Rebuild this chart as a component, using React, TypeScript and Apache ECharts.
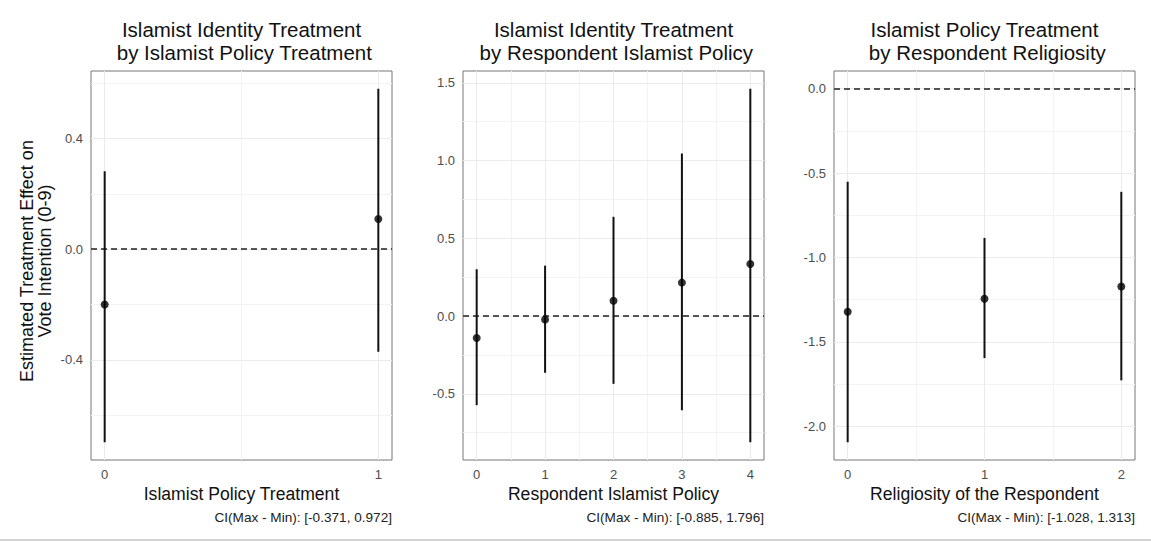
import React, { useEffect, useRef } from "react";
import * as echarts from "echarts";

const FONT = '"Liberation Sans", Arial, Helvetica, sans-serif';

// ---- texts ----
const panelTitles = [
  "Islamist Identity Treatment\n by Islamist Policy Treatment",
  "Islamist Identity Treatment\n by Respondent Islamist Policy",
  "Islamist Policy Treatment\n by Respondent Religiosity",
];
const xTitles = ["Islamist Policy Treatment", "Respondent Islamist Policy", "Religiosity of the Respondent"];
const captions = [
  "CI(Max - Min): [-0.371, 0.972]",
  "CI(Max - Min): [-0.885, 1.796]",
  "CI(Max - Min): [-1.028, 1.313]",
];
const yTitle = "Estimated Treatment Effect on\nVote Intention (0-9)";

// ---- panel 1 ----
const p1X = [0, 1];
const p1Est = [-0.2, 0.109];
const p1Lo = [-0.698, -0.371];
const p1Hi = [0.282, 0.58];
const p1YTicks = [-0.4, 0, 0.4];
const p1YMinor = [-0.6, -0.2, 0.2, 0.6];
const p1XTicks = [0, 1];
const p1XMinor = [0.5];

// ---- panel 2 ----
const p2X = [0, 1, 2, 3, 4];
const p2Est = [-0.141, -0.022, 0.098, 0.215, 0.335];
const p2Lo = [-0.573, -0.365, -0.436, -0.605, -0.812];
const p2Hi = [0.301, 0.324, 0.638, 1.045, 1.462];
const p2YTicks = [-0.5, 0, 0.5, 1, 1.5];
const p2YMinor = [-0.75, -0.25, 0.25, 0.75, 1.25];
const p2XTicks = [0, 1, 2, 3, 4];
const p2XMinor = [0.5, 1.5, 2.5, 3.5];

// ---- panel 3 ----
const p3X = [0, 1, 2];
const p3Est = [-1.322, -1.245, -1.172];
const p3Lo = [-2.095, -1.596, -1.728];
const p3Hi = [-0.552, -0.884, -0.611];
const p3YTicks = [-2, -1.5, -1, -0.5, 0];
const p3YMinor = [-1.75, -1.25, -0.75, -0.25];
const p3XTicks = [0, 1, 2];
const p3XMinor = [0.5, 1.5];

const panels = [
  { x: p1X, est: p1Est, lo: p1Lo, hi: p1Hi, yT: p1YTicks, yM: p1YMinor, xT: p1XTicks, xM: p1XMinor },
  { x: p2X, est: p2Est, lo: p2Lo, hi: p2Hi, yT: p2YTicks, yM: p2YMinor, xT: p2XTicks, xM: p2XMinor },
  { x: p3X, est: p3Est, lo: p3Lo, hi: p3Hi, yT: p3YTicks, yM: p3YMinor, xT: p3XTicks, xM: p3XMinor },
];

const gridLefts = [91, 463, 834];
const gridTop = 71;
const gridW = 301;
const gridH = 389;

function expand(lo: number, hi: number) {
  const r = hi - lo;
  return [lo - 0.05 * r, hi + 0.05 * r];
}

export default function App() {
  const ref = useRef<HTMLDivElement>(null);
  useEffect(() => {
    if (!ref.current) return;
    const chart = echarts.init(ref.current, undefined, { renderer: "svg" });

    const grids: any[] = [];
    const xAxes: any[] = [];
    const yAxes: any[] = [];
    const series: any[] = [];
    const graphics: any[] = [];

    panels.forEach((p, i) => {
      grids.push({
        left: gridLefts[i],
        top: gridTop,
        width: gridW,
        height: gridH,
        show: true,
        borderColor: "#777",
        borderWidth: 1,
        backgroundColor: "#fff",
        containLabel: false,
      });
      const [xmin, xmax] = expand(Math.min(...p.x), Math.max(...p.x));
      const [ymin, ymax] = expand(Math.min(0, ...p.lo), Math.max(0, ...p.hi));
      xAxes.push({
        type: "value",
        gridIndex: i,
        min: xmin,
        max: xmax,
        axisLine: { show: false },
        splitLine: { show: false },
        axisTick: { show: true, length: 4, customValues: p.xT, lineStyle: { color: "#444" } },
        axisLabel: {
          customValues: p.xT,
          color: "#4d4d4d",
          fontSize: 13,
          fontFamily: FONT,
          margin: 8,
          formatter: (v: number) => String(v),
        },
      });
      yAxes.push({
        type: "value",
        gridIndex: i,
        min: ymin,
        max: ymax,
        axisLine: { show: false },
        splitLine: { show: false },
        axisTick: { show: true, length: 4, customValues: p.yT, lineStyle: { color: "#444" } },
        axisLabel: {
          customValues: p.yT,
          color: "#4d4d4d",
          fontSize: 13,
          fontFamily: FONT,
          margin: 8,
          formatter: (v: number) => v.toFixed(1),
        },
      });

      const major = { color: "#ebebeb", width: 1, type: "solid" };
      const minor = { color: "#f3f3f3", width: 1, type: "solid" };
      const gridLines: any[] = [
        ...p.yM.map((v) => ({ yAxis: v, lineStyle: minor })),
        ...p.xM.map((v) => ({ xAxis: v, lineStyle: minor })),
        ...p.yT.map((v) => ({ yAxis: v, lineStyle: major })),
        ...p.xT.map((v) => ({ xAxis: v, lineStyle: major })),
      ];
      series.push({
        type: "line",
        xAxisIndex: i,
        yAxisIndex: i,
        data: [],
        z: 1,
        silent: true,
        markLine: {
          z: 1,
          silent: true,
          symbol: ["none", "none"],
          label: { show: false },
          animation: false,
          data: gridLines,
        },
      });
      series.push({
        type: "custom",
        xAxisIndex: i,
        yAxisIndex: i,
        z: 3,
        data: p.x.map((x, k) => [x, p.lo[k], p.hi[k]]),
        encode: { x: 0, y: [1, 2] },
        renderItem: (_params: any, api: any) => {
          const x = api.value(0);
          const a = api.coord([x, api.value(1)]);
          const b = api.coord([x, api.value(2)]);
          return {
            type: "line",
            shape: { x1: a[0], y1: a[1], x2: b[0], y2: b[1] },
            style: { stroke: "#111", lineWidth: 2 },
          };
        },
      });
      series.push({
        type: "scatter",
        xAxisIndex: i,
        yAxisIndex: i,
        z: 4,
        symbol: "circle",
        symbolSize: 8,
        itemStyle: { color: "#000" },
        data: p.x.map((x, k) => [x, p.est[k]]),
        markLine: {
          z: 3,
          silent: true,
          symbol: ["none", "none"],
          label: { show: false },
          animation: false,
          lineStyle: { color: "#222", width: 1.5, type: [6, 4] },
          data: [{ yAxis: 0 }],
        },
      });

      const cx = gridLefts[i] + gridW / 2;
      graphics.push({
        type: "text",
        x: cx,
        y: 40.5,
        style: {
          text: panelTitles[i],
          fontSize: 20.5,
          fontFamily: FONT,
          fill: "#111",
          align: "center",
          verticalAlign: "middle",
          lineHeight: 23,
        },
      });
      graphics.push({
        type: "text",
        x: cx,
        y: 494,
        style: {
          text: xTitles[i],
          fontSize: 17.6,
          fontFamily: FONT,
          fill: "#111",
          align: "center",
          verticalAlign: "middle",
        },
      });
      graphics.push({
        type: "text",
        x: gridLefts[i] + gridW,
        y: 517,
        style: {
          text: captions[i],
          fontSize: 13.6,
          fontFamily: FONT,
          fill: "#222",
          align: "right",
          verticalAlign: "middle",
        },
      });
    });

    graphics.push({
      type: "text",
      x: 36,
      y: 261,
      rotation: Math.PI / 2,
      style: {
        text: yTitle,
        fontSize: 18,
        fontFamily: FONT,
        fill: "#111",
        align: "center",
        verticalAlign: "middle",
        lineHeight: 18.5,
      },
    });
    graphics.push({
      type: "line",
      shape: { x1: 0, y1: 540, x2: 1151, y2: 540 },
      style: { stroke: "#c4c4c4", lineWidth: 1.5 },
    });

    chart.setOption({
      animation: false,
      backgroundColor: "#fff",
      grid: grids,
      xAxis: xAxes,
      yAxis: yAxes,
      series,
      graphic: graphics,
    });
    return () => chart.dispose();
  }, []);
  return (
    <div
      ref={ref}
      style={{ position: "absolute", left: 0, top: 0, width: 1151, height: 542, background: "#fff" }}
    />
  );
}
